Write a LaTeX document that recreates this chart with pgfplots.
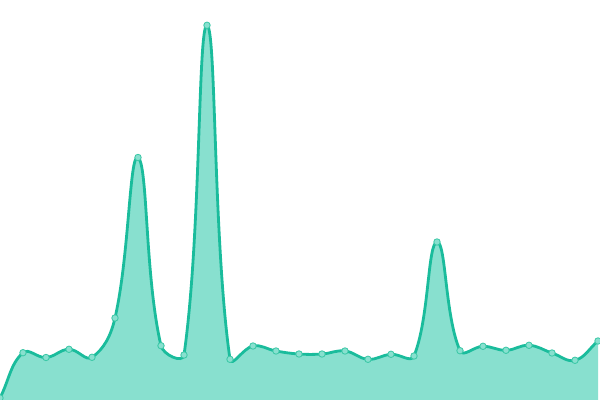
\documentclass[border=0pt]{standalone}
\usepackage{pgfplots}
\pgfplotsset{compat=1.18}
\definecolor{lineC}{HTML}{1ABC9C}
\definecolor{areaC}{HTML}{88E0CF}
\definecolor{markF}{HTML}{88E0CF}
\definecolor{markD}{HTML}{3CC8A7}

\pgfplotstableread{
x y
0 2
1 47.3
2 42.5
3 50.7
4 42.7
5 82
6 242.5
7 54.3
8 45
9 374.7
10 40.7
11 54
12 49
13 46
14 46
15 49
16 40.7
17 45.7
18 44
19 158
20 49.3
21 53.7
22 49.7
23 54.7
24 47
25 39.7
26 59
}\series

% --- spline through the table points (control points weighted by segment length,
%     tension 0.4, measured in plot pixels: 23 px per x step, 1 px per y unit)
\pgfplotstablegetrowsof{\series}
\pgfmathtruncatemacro\lastidx{\pgfplotsretval-1}
\pgfmathtruncatemacro\lastseg{\lastidx-1}
\foreach \i in {0,...,\lastidx}{%
  \pgfplotstablegetelem{\i}{y}\of\series
  \expandafter\xdef\csname yv\i\endcsname{\pgfplotsretval}%
}
\foreach \i in {0,...,\lastidx}{%
  \pgfmathtruncatemacro\ip{max(\i-1,0)}%
  \pgfmathtruncatemacro\jn{min(\i+1,\lastidx)}%
  \edef\yp{\csname yv\ip\endcsname}%
  \edef\yc{\csname yv\i\endcsname}%
  \edef\yn{\csname yv\jn\endcsname}%
  \pgfmathsetmacro\da{sqrt((0.23*(\i-\ip))^2+((\yc-\yp)/100)^2)}%
  \pgfmathsetmacro\db{sqrt((0.23*(\jn-\i))^2+((\yn-\yc)/100)^2)}%
  \pgfmathsetmacro\fa{0.4*\da/(\da+\db)}%
  \pgfmathsetmacro\fb{0.4*\db/(\da+\db)}%
  \pgfmathsetmacro\tmpa{\i-\fa*(\jn-\ip)}\expandafter\xdef\csname iX\i\endcsname{\tmpa}%
  \pgfmathsetmacro\tmpa{\yc-\fa*(\yn-\yp)}\expandafter\xdef\csname iY\i\endcsname{\tmpa}%
  \pgfmathsetmacro\tmpa{\i+\fb*(\jn-\ip)}\expandafter\xdef\csname oX\i\endcsname{\tmpa}%
  \pgfmathsetmacro\tmpa{\yc+\fb*(\yn-\yp)}\expandafter\xdef\csname oY\i\endcsname{\tmpa}%
}
\gdef\curvepath{}
\foreach \i in {0,...,\lastseg}{%
  \pgfmathtruncatemacro\j{\i+1}%
  \xdef\curvepath{\curvepath .. controls (\csname oX\i\endcsname,\csname oY\i\endcsname)
    and (\csname iX\j\endcsname,\csname iY\j\endcsname) .. (\j,\csname yv\j\endcsname)}%
}
\xdef\ystart{\csname yv0\endcsname}
\edef\areacmd{\noexpand\fill[areaC] (0,0) -- (0,\ystart)\curvepath -- (\lastidx,0) -- cycle;}
\edef\linecmd{\noexpand\draw[lineC, line width=2pt] (0,\ystart)\curvepath;}

\begin{document}
\begin{tikzpicture}
  \begin{axis}[
      name=main,
      width=15cm,
      height=10cm,
      scale only axis,
      hide axis,
      xmin=0, xmax=26.087,
      ymin=0, ymax=400,
      clip mode=individual,
    ]
    \areacmd
    \linecmd
    % point markers
    \addplot[only marks, mark=*, mark size=2.3pt,
      mark options={fill=markF, draw=markD, line width=0.6pt}] table {\series};
  \end{axis}
  % keep the page to the plot area
  \pgfresetboundingbox
  \useasboundingbox (main.south west) rectangle (main.north east);
\end{tikzpicture}
\end{document}
